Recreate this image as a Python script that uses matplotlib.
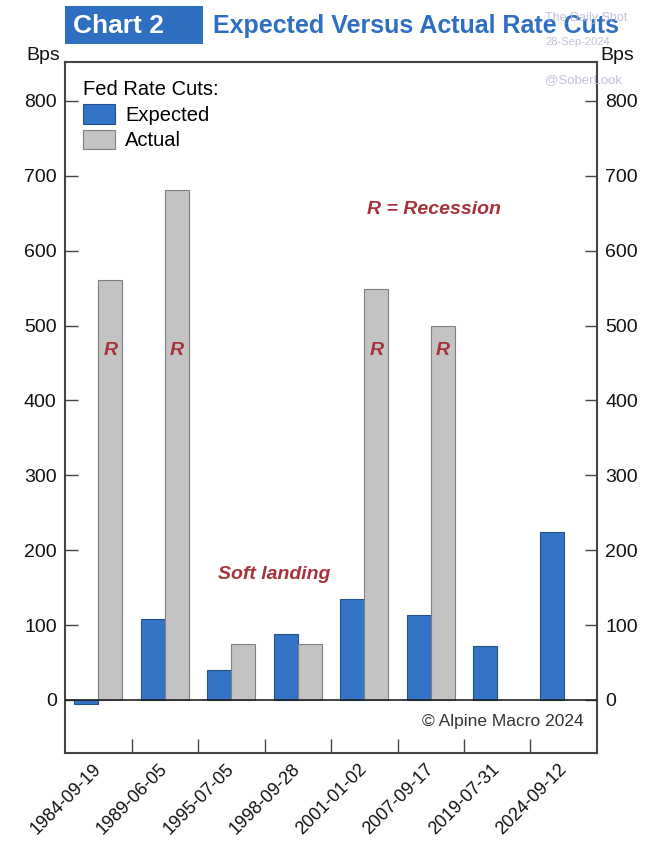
import numpy as np
import matplotlib
matplotlib.use("Agg")
import matplotlib.pyplot as plt
from matplotlib.patches import Rectangle

plt.rcParams['font.family'] = ['Liberation Sans', 'DejaVu Sans']

dates = ["1984-09-19", "1989-06-05", "1995-07-05", "1998-09-28",
         "2001-01-02", "2007-09-17", "2019-07-31", "2024-09-12"]
expected = [-6, 108, 40, 88, 135, 113, 72, 224]
actual = [561, 681, 75, 75, 549, 499, np.nan, np.nan]
recession_flags = [True, True, False, False, True, True, False, False]
yticks = [0, 100, 200, 300, 400, 500, 600, 700, 800]

BLUE = "#3474C6"
BLUE_EDGE = "#24508C"
GRAY = "#C3C3C3"
GRAY_EDGE = "#7F7F7F"
RED = "#A8323A"
SPINE = "#444444"

fig = plt.figure(figsize=(6.47, 8.5), dpi=100)
ax = fig.add_axes([0.1005, 0.1141, 0.8222, 0.8129])

x = np.arange(len(dates))
w = 0.36
ax.bar(x - w / 2, expected, width=w, color=BLUE, edgecolor=BLUE_EDGE, linewidth=0.8, label="Expected", zorder=2)
ax.bar(x + w / 2, actual, width=w, color=GRAY, edgecolor=GRAY_EDGE, linewidth=0.8, label="Actual", zorder=2)
ax.axhline(0, color="#222222", linewidth=1.2, zorder=3)

ax.set_xlim(-0.5, len(dates) - 0.5)
ax.set_ylim(-71, 852)

# y axes both sides
ax.set_yticks(yticks)
ax.tick_params(axis='y', direction='in', length=9, width=1, colors=SPINE, labelsize=14,
               labelcolor="#111111", left=True, right=True, labelleft=True, labelright=True, pad=6)
# x: boundary ticks (major), labels at centers (minor)
ax.set_xticks(np.arange(0.5, len(dates) - 0.5, 1.0))
ax.set_xticklabels([])
ax.set_xticks(x, minor=True)
ax.set_xticklabels(dates, minor=True, rotation=45, ha='right', va='center', rotation_mode='anchor',
                   fontsize=13, color="#111111")
ax.tick_params(axis='x', which='major', direction='in', length=10, width=1, colors=SPINE)
ax.tick_params(axis='x', which='minor', length=0, pad=10)

for s in ax.spines.values():
    s.set_color(SPINE)
    s.set_linewidth(1.5)

# recession markers
for xi, flag in zip(x, recession_flags):
    if flag:
        ax.text(xi + w / 2, 467, "R", color=RED, fontsize=14, fontweight='bold', style='italic',
                ha='center', va='center', zorder=4)
ax.text(5.05, 655, "R = Recession", color=RED, fontsize=14, fontweight='bold', style='italic',
        ha='center', va='center')
ax.text(2.65, 168, "Soft landing", color=RED, fontsize=14, fontweight='bold', style='italic',
        ha='center', va='center')
ax.text(0.975, 0.035, "© Alpine Macro 2024", transform=ax.transAxes, ha='right', va='bottom',
        fontsize=12.5, color="#333333")

leg = ax.legend(loc='upper left', bbox_to_anchor=(0.0, 1.0), title="Fed Rate Cuts:", frameon=False,
                fontsize=14.5, title_fontsize=14.5, handlelength=1.6, handleheight=1.1,
                handletextpad=0.5, labelspacing=0.25, borderaxespad=0.5)
leg._legend_box.align = "left"

# Bps labels
fig.text(0.093, 0.925, "Bps", ha='right', va='bottom', fontsize=14, color="#111111")
fig.text(0.928, 0.925, "Bps", ha='left', va='bottom', fontsize=14, color="#111111")

# Title
fig.patches.append(Rectangle((0.1005, 0.948), 0.213, 0.0447, transform=fig.transFigure,
                             facecolor="#2F6FC2", edgecolor='none'))
fig.text(0.1824, 0.969, "Chart 2", ha='center', va='center', fontsize=19, fontweight='bold',
         color='white')
fig.text(0.329, 0.969, "Expected Versus Actual Rate Cuts", ha='left', va='center', fontsize=18,
         fontweight='bold', color="#2F6FC2")

# watermarks
fig.text(0.843, 0.979, "The Daily Shot", ha='left', va='center', fontsize=9, color="#B8BCD4", alpha=0.9)
fig.text(0.843, 0.951, "28-Sep-2024", ha='left', va='center', fontsize=8, color="#B8BCD4", alpha=0.9)
fig.text(0.843, 0.906, "@SoberLook", ha='left', va='center', fontsize=9.5, color="#B8BCD4", alpha=0.9)

fig.savefig("out.png", dpi=100)
